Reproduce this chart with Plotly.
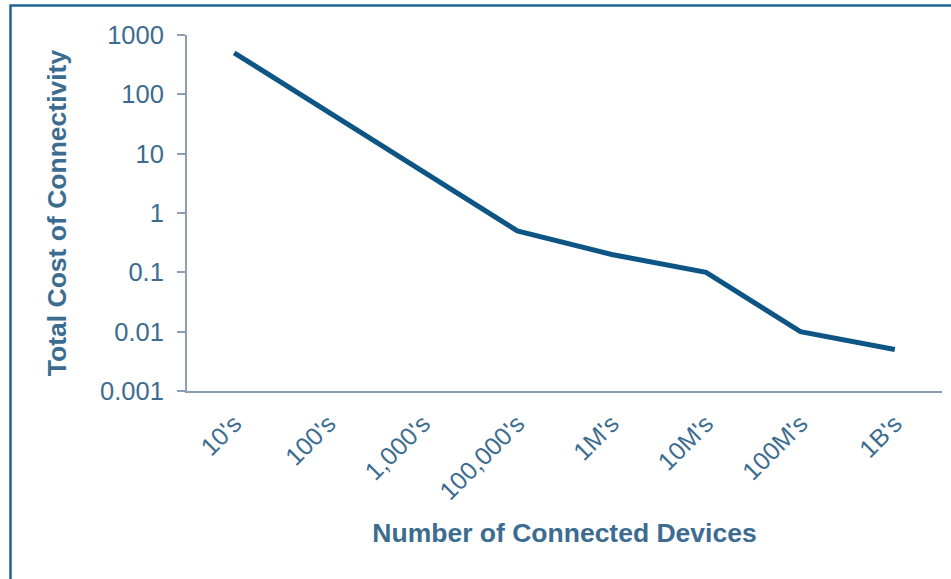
import plotly.graph_objects as go

categories = ["10's", "100's", "1,000's", "100,000's", "1M's", "10M's", "100M's", "1B's"]
cost = [500, 50, 5, 0.5, 0.2, 0.1, 0.01, 0.005]
ytick_vals = [0.001, 0.01, 0.1, 1, 10, 100, 1000]
ytick_text = ["0.001", "0.01", "0.1", "1", "10", "100", "1000"]

text_color = "#3C6C8F"
axis_color = "#8D9DB2"
line_color = "#0D5584"
font_family = "Arial, 'Liberation Sans', sans-serif"

fig = go.Figure()
fig.add_trace(go.Scatter(
    x=categories, y=cost, mode="lines",
    line=dict(color=line_color, width=5),
    showlegend=False, hoverinfo="x+y",
))

W, H = 951, 579
L, R, T, B = 187, 9, 35, 188
pw, ph = W - L - R, H - T - B

def px_x(x):
    return (x - L) / pw

def px_y(y):
    return (H - B - y) / ph

fig.update_layout(
    width=W, height=H,
    margin=dict(l=L, r=R, t=T, b=B),
    paper_bgcolor="white", plot_bgcolor="white",
    font=dict(family=font_family, color=text_color, size=25),
    xaxis=dict(
        type="category", range=[-0.5, len(categories) - 0.5],
        showline=True, linecolor=axis_color, linewidth=2,
        showgrid=False, zeroline=False, ticks="",
        tickangle=-45, tickfont=dict(size=25, color=text_color),
        ticklabelstandoff=6,
        title=dict(text="<b>Number of Connected Devices</b>",
                   font=dict(size=26.5, color=text_color), standoff=19),
        automargin=False,
    ),
    yaxis=dict(
        type="log", range=[-3, 3],
        tickvals=ytick_vals, ticktext=ytick_text,
        showline=True, linecolor=axis_color, linewidth=2,
        showgrid=False, zeroline=False,
        ticks="outside", ticklen=8, tickwidth=2, tickcolor=axis_color,
        tickfont=dict(size=25.5, color=text_color),
        ticklabelstandoff=8,
        title=dict(text="<b>Total Cost of Connectivity</b>",
                   font=dict(size=26.5, color=text_color), standoff=26),
        automargin=False,
    ),
    shapes=[dict(
        type="rect", xref="paper", yref="paper",
        x0=px_x(10.5), x1=px_x(970), y0=px_y(600), y1=px_y(5.5),
        line=dict(color="#1F6495", width=2.5), fillcolor="rgba(0,0,0,0)",
        layer="below",
    )],
)

fig.write_html("out.html")
